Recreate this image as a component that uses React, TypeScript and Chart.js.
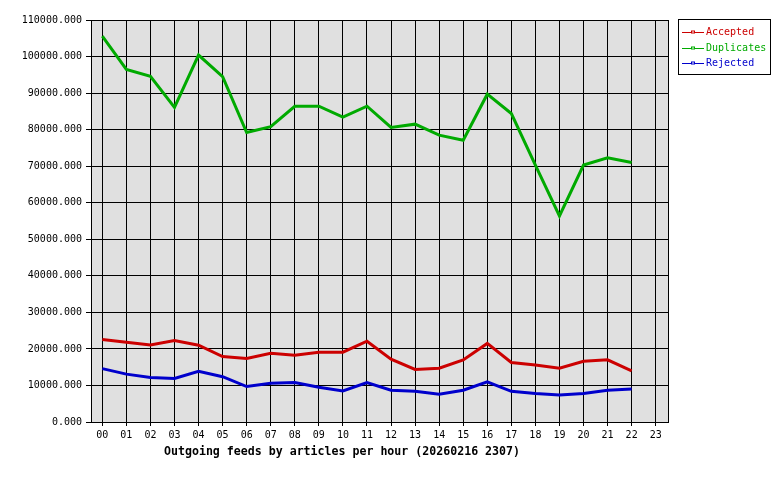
import React, { useEffect, useRef } from "react";
import { Chart, registerables } from "chart.js";

Chart.register(...registerables);

const hours = ["00","01","02","03","04","05","06","07","08","09","10","11","12","13","14","15","16","17","18","19","20","21","22","23"];

const accepted = [22600, 21800, 21100, 22300, 21000, 17900, 17400, 18800, 18300, 19100, 19100, 22100, 17200, 14400, 14700, 17000, 21500, 16300, 15600, 14700, 16600, 17000, 14000];
const duplicates = [105600, 96500, 94600, 86100, 100400, 94500, 79200, 80800, 86400, 86400, 83400, 86400, 80600, 81500, 78500, 77100, 89700, 84400, 70300, 56400, 70300, 72300, 71000];
const rejected = [14600, 13100, 12200, 11900, 13900, 12400, 9700, 10600, 10800, 9500, 8500, 10800, 8700, 8400, 7600, 8700, 11000, 8400, 7800, 7400, 7800, 8700, 9000];

const seriesNames = ["Accepted", "Duplicates", "Rejected"];
const seriesColors = ["#cc0000", "#00aa00", "#0000cc"];
const seriesValues = [accepted, duplicates, rejected];

const titleText = "Outgoing feeds by articles per hour (20260216 2307)";

const MONO = "'DejaVu Sans Mono', 'Liberation Mono', monospace";

const framePlugin = {
  id: "frame",
  beforeDraw(chart: any) {
    const { ctx, chartArea } = chart;
    ctx.save();
    ctx.fillStyle = "#ffffff";
    ctx.fillRect(0, 0, chart.width, chart.height);
    ctx.fillStyle = "#e0e0e0";
    ctx.fillRect(chartArea.left, chartArea.top, chartArea.right - chartArea.left, chartArea.bottom - chartArea.top);
    ctx.restore();
  },
  afterDraw(chart: any) {
    const { ctx, chartArea } = chart;
    ctx.save();
    ctx.strokeStyle = "#000000";
    ctx.lineWidth = 1;
    ctx.strokeRect(chartArea.left + 0.5, chartArea.top + 0.5, chartArea.right - chartArea.left - 1, chartArea.bottom - chartArea.top);
    // title
    ctx.fillStyle = "#000000";
    ctx.font = `bold 11.6px ${MONO}`;
    ctx.textAlign = "center";
    ctx.textBaseline = "middle";
    ctx.fillText(titleText, 342, 452);
    // legend
    ctx.strokeRect(678.5, 19.5, 92, 55);
    const ys = [32, 47.5, 63];
    ctx.font = `10px ${MONO}`;
    ctx.textAlign = "left";
    seriesNames.forEach((name, i) => {
      const y = Math.round(ys[i]) + 0.5;
      ctx.strokeStyle = seriesColors[i];
      ctx.beginPath();
      ctx.moveTo(682, y);
      ctx.lineTo(704, y);
      ctx.stroke();
      ctx.fillStyle = "#ffffff";
      ctx.fillRect(691, y - 2, 4, 3);
      ctx.strokeRect(691.5, y - 1.5, 3, 2);
      ctx.fillStyle = seriesColors[i];
      ctx.fillText(name, 706, y);
    });
    ctx.restore();
  },
};

export default function App() {
  const ref = useRef<HTMLCanvasElement | null>(null);
  useEffect(() => {
    document.body.style.margin = "0";
    const canvas = ref.current!;
    const chart = new Chart(canvas, {
      type: "line",
      data: {
        datasets: seriesNames.map((name, i) => ({
          label: name,
          data: seriesValues[i].map((v, j) => ({ x: j, y: v })),
          borderColor: seriesColors[i],
          backgroundColor: seriesColors[i],
          borderWidth: 3,
          pointRadius: 0,
          tension: 0,
          fill: false,
        })),
      },
      options: {
        responsive: false,
        animation: false,
        devicePixelRatio: 1,
        layout: { padding: { left: 0, top: 20, right: 111, bottom: 0 } },
        plugins: {
          legend: { display: false },
          tooltip: { enabled: false },
          title: { display: false },
        },
        scales: {
          x: {
            type: "linear",
            min: -0.47,
            max: 23.553,
            afterFit(scale: any) {
              scale.height = 58;
            },
            afterBuildTicks(scale: any) {
              scale.ticks = hours.map((_, i) => ({ value: i }));
            },
            grid: {
              color: "#000000",
              lineWidth: 1,
              drawTicks: true,
              tickLength: 4,
              tickColor: "#000000",
            },
            border: { display: false },
            ticks: {
              autoSkip: false,
              maxRotation: 0,
              padding: 3,
              color: "#000000",
              font: { family: MONO, size: 10 },
              callback: (v: any) => hours[Math.round(Number(v))] ?? "",
            },
          },
          y: {
            min: 0,
            max: 110000,
            afterFit(scale: any) {
              scale.width = 91;
            },
            grid: {
              color: "#000000",
              lineWidth: 1,
              drawTicks: true,
              tickLength: 5,
              tickColor: "#000000",
            },
            border: { display: false },
            ticks: {
              stepSize: 10000,
              padding: 4,
              color: "#000000",
              font: { family: MONO, size: 10 },
              callback: (v: any) => Number(v).toFixed(3),
            },
          },
        },
      },
      plugins: [framePlugin],
    });
    return () => chart.destroy();
  }, []);
  return <canvas ref={ref} width={780} height={480} style={{ display: "block" }} />;
}
